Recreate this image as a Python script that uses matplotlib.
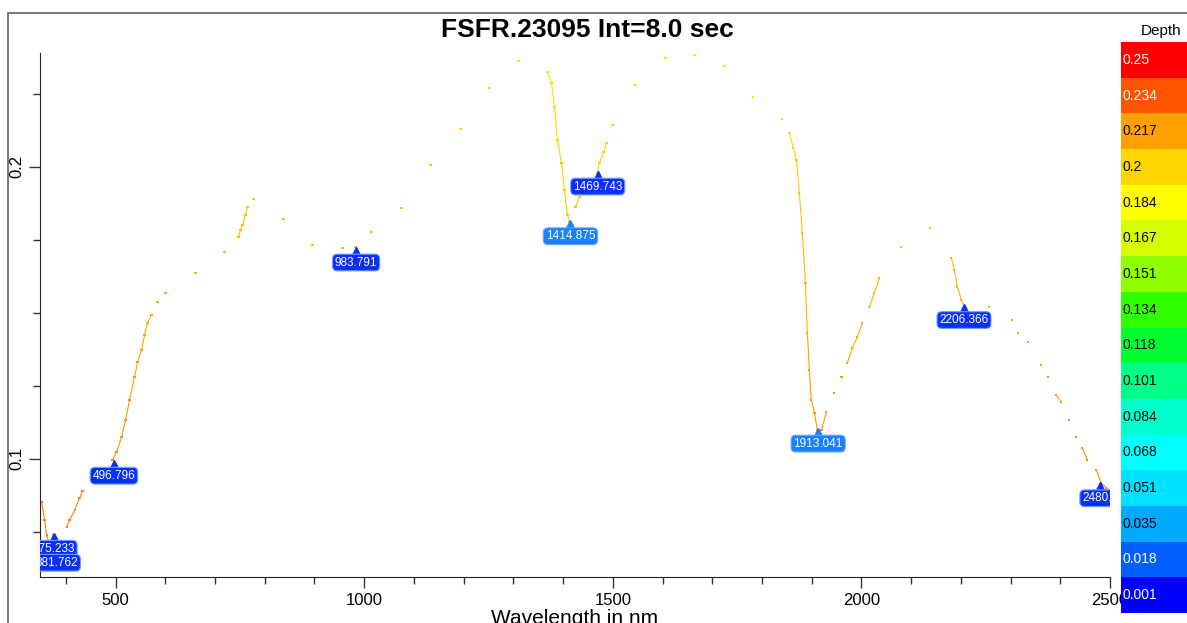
import numpy as np
import matplotlib
matplotlib.use("Agg")
import matplotlib.pyplot as plt
from matplotlib.collections import LineCollection
from matplotlib.colors import LinearSegmentedColormap
from matplotlib.patches import Rectangle
from matplotlib.ticker import MultipleLocator

plt.rcParams['font.family'] = ['Liberation Sans', 'DejaVu Sans']

# spectrum (nm, reflectance)
wavelength = [351.2, 357.2, 361.3, 367.3, 375.3, 381.4,
              401.5, 407.5, 417.6, 427.6, 433.6,
              494.0, 502.0, 512.1, 520.1, 528.1, 538.2, 544.2, 552.3, 558.3, 564.3,
              572.4, 584.4, 600.5, 660.9, 719.2, 747.3, 751.3, 755.4, 761.4, 765.4, 777.5,
              837.8, 896.1, 956.4, 982.6, 1014.7, 1075.1, 1133.4, 1193.7, 1252.0, 1310.3,
              1368.6, 1376.7, 1382.7, 1388.7, 1396.8, 1402.8, 1408.8, 1412.9,
              1424.9, 1433.0, 1439.0, 1469.2, 1473.2, 1481.3, 1487.3, 1499.3,
              1545.6, 1605.9, 1664.2, 1724.5, 1782.8, 1841.1,
              1855.2, 1863.2, 1869.3, 1875.3, 1881.3, 1887.4, 1891.4, 1895.4, 1899.4, 1905.5, 1911.5,
              1919.6, 1929.6, 1945.7, 1959.8, 1971.8, 1981.9, 1991.9, 2002.0, 2016.1, 2026.1, 2036.2,
              2080.4, 2138.7,
              2180.9, 2187.0, 2193.0, 2201.0, 2207.1,
              2257.4, 2303.6, 2315.7, 2335.8, 2362.0, 2376.0, 2392.1, 2402.1, 2418.2, 2432.3,
              2444.3, 2454.4, 2472.5, 2482.5, 2492.6, 2498.6]
reflectance = [0.0853, 0.0791, 0.0740, 0.0705, 0.0740, 0.0692,
               0.0767, 0.0791, 0.0825, 0.0866, 0.0890,
               0.0997, 0.1024, 0.1075, 0.1134, 0.1202, 0.1281, 0.1332, 0.1373, 0.1425, 0.1466,
               0.1493, 0.1538, 0.1568, 0.1637, 0.1709, 0.1760, 0.1784, 0.1801, 0.1836, 0.1863, 0.1890,
               0.1822, 0.1733, 0.1723, 0.1726, 0.1777, 0.1860, 0.2007, 0.2130, 0.2271, 0.2363,
               0.2325, 0.2288, 0.2205, 0.2092, 0.2014, 0.1921, 0.1836, 0.1812,
               0.1863, 0.1897, 0.1932, 0.1983, 0.2014, 0.2051, 0.2082, 0.2144,
               0.2281, 0.2373, 0.2384, 0.2346, 0.2240, 0.2164,
               0.2116, 0.2065, 0.2024, 0.1911, 0.1774, 0.1603, 0.1432, 0.1305, 0.1202, 0.1158, 0.1099,
               0.1099, 0.1161, 0.1226, 0.1281, 0.1329, 0.1380, 0.1418, 0.1466, 0.1521, 0.1568, 0.1620,
               0.1726, 0.1791,
               0.1688, 0.1647, 0.1589, 0.1545, 0.1524,
               0.1521, 0.1476, 0.1432, 0.1401, 0.1322, 0.1281, 0.1219, 0.1195, 0.1134, 0.1075,
               0.1038, 0.0997, 0.0962, 0.0918, 0.0901, 0.0894]

# labelled minima
peak_wl = [375.233, 381.762, 496.796, 983.791, 1414.875, 1469.743, 1913.041, 2206.366, 2480.3]
peak_refl = [0.0745, 0.0697, 0.0995, 0.1725, 0.1815, 0.1985, 0.1105, 0.1528, 0.0918]
peak_text = ["375.233", "381.762", "496.796", "983.791", "1414.875", "1469.743",
             "1913.041", "2206.366", "2480.3"]
peak_light = [False, False, False, False, True, False, True, False, False]

depth_levels = ["0.25", "0.234", "0.217", "0.2", "0.184", "0.167", "0.151", "0.134",
                "0.118", "0.101", "0.084", "0.068", "0.051", "0.035", "0.018", "0.001"]
depth_colors = ["#ff0000", "#ff5500", "#ffa000", "#ffd500", "#ffff00", "#d5ff00",
                "#90ff00", "#30ff00", "#00ff30", "#00ff88", "#00ffcc", "#00ffff",
                "#00e0ff", "#00aaff", "#0060ff", "#0000ff"]
depth_white = ["0.25", "0.234", "0.018", "0.001"]

fig = plt.figure(figsize=(11.87, 6.23), dpi=100)

# outer frame
fig.patches.append(Rectangle((8 / 1187, -0.05), 1.1, 0.05 + 1 - 13 / 623,
                             transform=fig.transFigure, fill=False,
                             ec="#606060", lw=1.2))

ax = fig.add_axes([40 / 1187, 1 - 577 / 623, 1070 / 1187, 524 / 623])
x = np.array(wavelength)
y = np.array(reflectance)
cmap = LinearSegmentedColormap.from_list("spec", ["#ff7a20", "#ff9a00", "#ffc000", "#ffe400"])
norm = plt.Normalize(0.07, 0.235)

segs, cols = [], []
for i in range(len(x) - 1):
    if x[i + 1] - x[i] < 10.5:
        segs.append([(x[i], y[i]), (x[i + 1], y[i + 1])])
        cols.append(cmap(norm((y[i] + y[i + 1]) / 2)))
ax.add_collection(LineCollection(segs, colors=cols, linewidths=0.8))
ax.scatter(x, y, s=2.5, c=cmap(norm(y)), marker="s", linewidths=0)

for wl, r, t, light in zip(peak_wl, peak_refl, peak_text, peak_light):
    c = "#1a80ff" if light else "#0a30f5"
    ax.plot(wl, r - 0.0012, marker="^", ms=6, color=c, mec=c)
    ax.annotate(t, (wl, r), xytext=(0, -11), textcoords="offset points",
                ha="center", va="center", color="white", fontsize=8.5,
                bbox=dict(boxstyle="round,pad=0.2,rounding_size=0.4", fc=c,
                          ec="#6aa0ff", lw=0.8),
                annotation_clip=False, clip_on=True)

ax.set_xlim(348, 2500)
ax.set_ylim(0.0596, 0.239)
ax.xaxis.set_major_locator(MultipleLocator(500))
ax.xaxis.set_minor_locator(MultipleLocator(100))
ax.yaxis.set_major_locator(MultipleLocator(0.1))
ax.yaxis.set_minor_locator(MultipleLocator(0.025))
ax.tick_params(which="major", length=8, width=1, labelsize=12, color="#333333")
ax.tick_params(which="minor", length=5, width=1, color="#333333")
ax.yaxis.set_major_formatter(matplotlib.ticker.FuncFormatter(lambda v, p: f"{v:g}"))
plt.setp(ax.get_yticklabels(), rotation=90, va="center")
ax.spines["top"].set_visible(False)
ax.spines["right"].set_visible(False)
ax.spines["left"].set_color("#222222")
ax.spines["bottom"].set_color("#222222")
ax.set_xlabel("Wavelength in nm", fontsize=15, labelpad=1)
fig.text(587 / 1187, 1 - 30 / 623, "FSFR.23095 Int=8.0 sec", ha="center", va="center",
         fontsize=19, fontweight="bold")

# depth legend
cax = fig.add_axes([1121 / 1187, 1 - 613 / 623, 66 / 1187, 571 / 623])
cax.set_zorder(5)
n = len(depth_levels)
for i, (lab, col) in enumerate(zip(depth_levels, depth_colors)):
    cax.barh(n - 1 - i, 1, height=1.0, left=0, color=col, lw=0)
    cax.text(0.03, n - 1 - i, lab, va="center", ha="left", fontsize=10,
             color="white" if lab in depth_white else "black")
cax.set_xlim(0, 1)
cax.set_ylim(-0.5, n - 0.5)
cax.axis("off")
fig.text(1181 / 1187, 1 - 31 / 623, "Depth", ha="right", va="center", fontsize=11)

fig.savefig("out.png", dpi=100)
